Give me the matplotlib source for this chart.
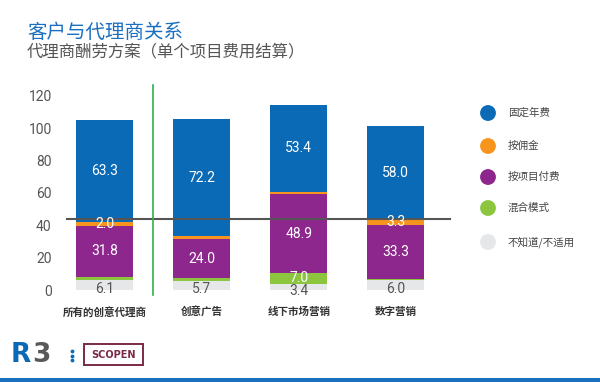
import matplotlib
matplotlib.use("Agg")
import matplotlib.pyplot as plt
from matplotlib.patches import Rectangle

plt.rcParams['font.family'] = ['Noto Sans CJK SC', 'DejaVu Sans']

# data
categories = ['所有的创意代理商', '创意广告', '线下市场营销', '数字营销']
series_names = ['不知道/不适用', '混合模式', '按项目付费', '按佣金', '固定年费']
series_colors = ['#e6e7e8', '#8cc63f', '#8e278d', '#f7941d', '#0a6ab6']
gray_na = [6.1, 5.7, 3.4, 6.0]
hybrid = [1.8, 1.6, 7.0, 0.8]
per_project = [31.8, 24.0, 48.9, 33.3]
commission = [2.0, 2.0, 1.4, 3.3]
fixed_fee = [63.3, 72.2, 53.4, 58.0]
series = [gray_na, hybrid, per_project, commission, fixed_fee]
# which segments carry a printed value
labelled = [[True] * 4, [False, False, True, False], [True] * 4,
            [True, False, False, True], [True] * 4]
ref_level = 44.0
yticks = [0, 20, 40, 60, 80, 100, 120]

fig = plt.figure(figsize=(6, 3.82), dpi=100)

# main chart, placed in pixel terms of the 600x382 canvas
W, H = 600, 382
ax = fig.add_axes([60 / W, (H - 290) / H, (455 - 60) / W, 202.5 / H])
ax.set_ylim(0, 125)
ax.set_xlim(-0.46, 3.61)

x = list(range(len(categories)))
bottom = [0.0] * len(categories)
for vals, col, lab, flags in zip(series, series_colors, series_names, labelled):
    ax.bar(x, vals, bottom=bottom, width=0.59, color=col, label=lab, zorder=2)
    for i, v in enumerate(vals):
        if not flags[i]:
            continue
        mid = bottom[i] + v / 2
        if col == '#e6e7e8':
            # grey values sit low, partly under the bar
            ax.text(x[i], min(mid - 2.2, 0.9), f'{v:.1f}', ha='center', va='center',
                    color='#555555', fontsize=10, family='Roboto', zorder=4)
        elif col == '#8cc63f':
            ax.text(x[i], mid + 0.6, f'{v:.1f}', ha='center', va='center',
                    color='white', fontsize=10, family='Roboto', zorder=4)
        else:
            ax.text(x[i], mid, f'{v:.1f}', ha='center', va='center',
                    color='white', fontsize=10, family='Roboto', zorder=4)
    bottom = [b + v for b, v in zip(bottom, vals)]

# reference line and divider
ax.plot([-0.39, 3.56], [ref_level, ref_level], color='#555555', lw=1.5, zorder=3, clip_on=False)
ax.plot([0.494, 0.494], [-3.1, 126.5], color='#2db24a', lw=1.2, zorder=3, clip_on=False)

ax.set_yticks(yticks)
ax.set_yticklabels([str(t) for t in yticks], family='Roboto', fontsize=10, color='#555555')
ax.set_xticks(x)
ax.set_xticklabels(categories, fontsize=7.6, fontweight='bold', color='#333333')
ax.tick_params(length=0)
ax.tick_params(axis='y', pad=6)
ax.tick_params(axis='x', pad=12)
for s in ax.spines.values():
    s.set_visible(False)

# overlay in pixel coordinates for titles, legend and logo
ov = fig.add_axes([0, 0, 1, 1], zorder=-1)
ov.set_xlim(0, W)
ov.set_ylim(H, 0)
ov.axis('off')

ov.text(27, 32, '客户与代理商关系', fontsize=14, color='#1a6fc0', va='center')
ov.text(27, 52, '代理商酬劳方案（单个项目费用结算）', fontsize=11.8, color='#555555', va='center')

leg_y = [113, 146, 177, 208, 242]
for yy, name, col in zip(leg_y, series_names[::-1], series_colors[::-1]):
    ov.scatter([488], [yy], s=130, color=col, edgecolors='none')
    ov.text(508, yy, name, fontsize=7.6, color='#444444', va='center')

# logo
ov.text(11, 355, 'R', fontsize=19, fontweight='bold', color='#0a6ab6', va='center',
        family='DejaVu Sans')
ov.text(32, 355, '3', fontsize=19, fontweight='bold', color='#58595b', va='center',
        family='DejaVu Sans')
ov.scatter([72, 72, 72], [351, 355.5, 360], s=3, color='#0a6ab6')
ov.add_patch(Rectangle((84, 344), 59, 21, fill=False, edgecolor='#7a2a48', lw=1.4))
ov.text(113.5, 354.5, 'SCOPEN', fontsize=7, fontweight='bold', color='#7a2a48',
        ha='center', va='center', family='DejaVu Sans')
ov.add_patch(Rectangle((0, 378), W, 4, color='#1a6fc0', lw=0))

fig.savefig('out.png', dpi=100)
